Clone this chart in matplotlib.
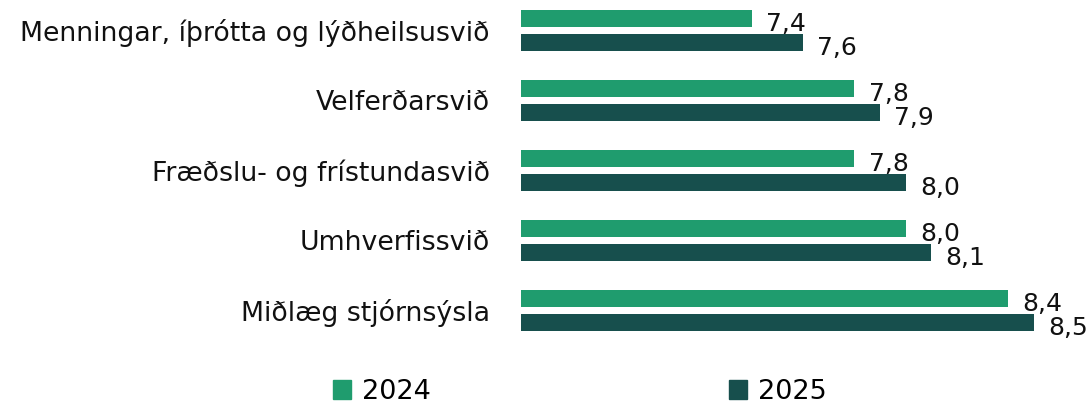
import numpy as np
import matplotlib.pyplot as plt
from matplotlib.patches import Patch

plt.rcParams["font.family"] = ["DejaVu Sans"]

categories = [
    "Menningar, íþrótta og lýðheilsusvið",
    "Velferðarsvið",
    "Fræðslu- og frístundasvið",
    "Umhverfissvið",
    "Miðlæg stjórnsýsla",
]
values_2024 = [7.4, 7.8, 7.8, 8.0, 8.4]
values_2025 = [7.6, 7.9, 8.0, 8.1, 8.5]
series = ["2024", "2025"]
colors = ["#1f9c6e", "#174f4d"]

fig = plt.figure(figsize=(10.89, 4.04), dpi=100)
ax = fig.add_axes([0.478, 0.134, 0.522, 0.866])

y = np.arange(len(categories))
h = 0.245
off = 0.175
for vals, dy, col in [(values_2024, -off, colors[0]), (values_2025, off, colors[1])]:
    bars = ax.barh(y + dy, np.array(vals) - 6.5, left=6.5, height=h, color=col)
    for b, v in zip(bars, vals):
        ax.annotate(f"{v:.1f}".replace(".", ","),
                    (b.get_x() + b.get_width(), b.get_y() + b.get_height() / 2),
                    xytext=(10.5, -4), textcoords="offset points",
                    ha="left", va="center", fontsize=18, color="#111111")

ax.set_xlim(6.5, 8.715)
ax.set_ylim(4 + 39.5 / 70, -30.5 / 70)
ax.set_yticks(y)
ax.set_yticklabels(categories, fontsize=19.3, color="#111111")
ax.tick_params(axis="y", length=0, pad=22)
ax.set_xticks([])
for s in ax.spines.values():
    s.set_visible(False)

handles = [Patch(color=c) for c in colors]
fig.legend(handles, series, loc="lower center", bbox_to_anchor=(0.5326, -0.063),
           ncol=2, frameon=False, fontsize=19.5, columnspacing=11.0,
           handlelength=0.67, handleheight=0.67, handletextpad=0.4)

fig.savefig("out.png", dpi=100)
